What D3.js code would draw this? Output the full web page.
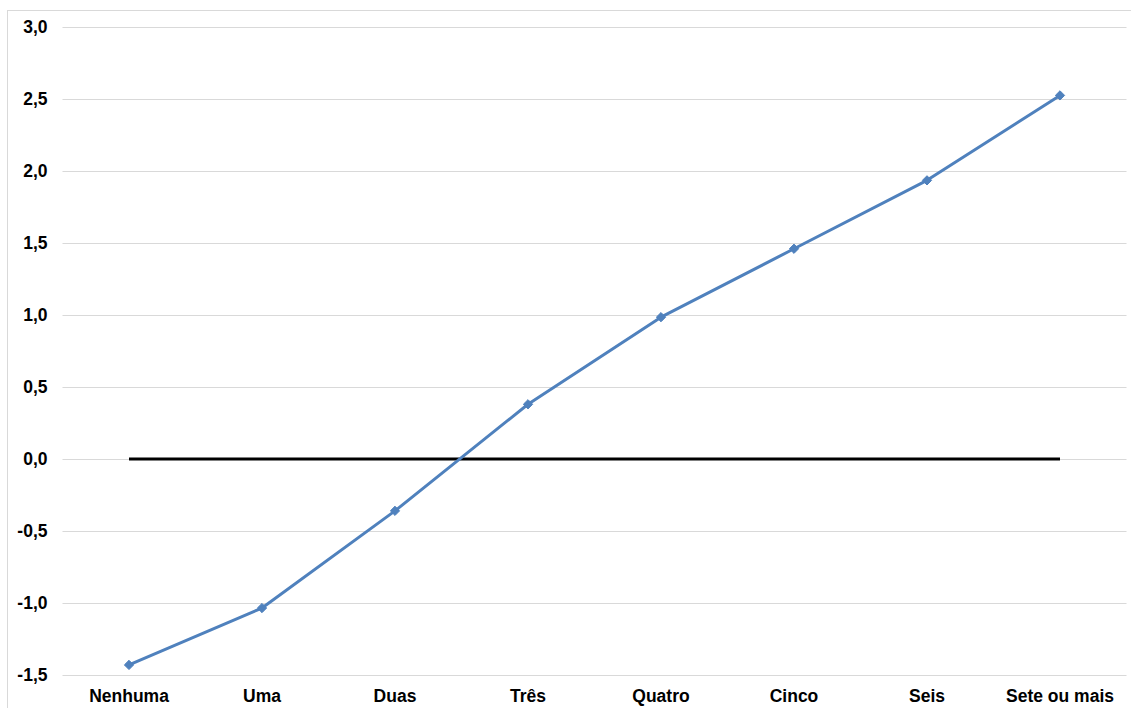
<!DOCTYPE html>
<html><head><meta charset="utf-8">
<script src="https://cdn.jsdelivr.net/npm/d3@7/dist/d3.min.js"></script>
<style>body{margin:0;background:#fff}svg{display:block}</style>
</head><body>
<script>
const categories = ["Nenhuma","Uma","Duas","Três","Quatro","Cinco","Seis","Sete ou mais"];
const values = [-1.43,-1.035,-0.36,0.38,0.985,1.46,1.935,2.525];
const zeroLine = [0,0,0,0,0,0,0,0];
const yTicks = [-1.5,-1.0,-0.5,0,0.5,1.0,1.5,2.0,2.5,3.0];

(function(){
const W=1131,H=708;
const svg=d3.select("body").append("svg").attr("width",W).attr("height",H);
svg.append("rect").attr("x",7.5).attr("y",10.5).attr("width",1140).attr("height",710)
  .attr("fill","none").attr("stroke","#d9d9d9").attr("stroke-width",1);

const pL=62.5,pR=1126.5,pT=27,pB=675;
const x=d3.scaleBand().domain(categories).range([pL,pR]);
const y=d3.scaleLinear().domain([-1.5,3]).range([pB,pT]);
const fmt=d=>d3.format(".1f")(d).replace(".",",").replace("−","-");

const grid=svg.append("g");
grid.selectAll("line").data(yTicks).join("line")
  .attr("x1",pL).attr("x2",pR)
  .attr("y1",d=>Math.round(y(d))+0.5).attr("y2",d=>Math.round(y(d))+0.5)
  .attr("stroke","#d9d9d9").attr("stroke-width",1);

const yAxis=svg.append("g").attr("transform",`translate(${pL},0)`)
  .call(d3.axisLeft(y).tickValues(yTicks).tickFormat(fmt).tickSize(0).tickPadding(15));
yAxis.select(".domain").remove();
yAxis.selectAll("text").attr("font-family","Liberation Sans, Arial, sans-serif")
  .attr("font-size",17.5).attr("font-weight","bold").attr("fill","#000");

const xAxis=svg.append("g").attr("transform",`translate(0,${pB})`)
  .call(d3.axisBottom(x).tickSize(0).tickPadding(15));
xAxis.select(".domain").remove();
xAxis.selectAll("text").attr("font-family","Liberation Sans, Arial, sans-serif")
  .attr("font-size",17.5).attr("font-weight","bold").attr("fill","#000");

const cx=d=>x(d)+x.bandwidth()/2;
svg.append("path").datum(zeroLine)
  .attr("d",d3.line().x((d,i)=>cx(categories[i])).y(d=>y(d)))
  .attr("fill","none").attr("stroke","#000").attr("stroke-width",3);

svg.append("path").datum(values)
  .attr("d",d3.line().x((d,i)=>cx(categories[i])).y(d=>y(d)))
  .attr("fill","none").attr("stroke","#4f81bd").attr("stroke-width",3).attr("stroke-linejoin","round");

svg.selectAll(".mk").data(values).join("path").attr("class","mk")
  .attr("transform",(d,i)=>`translate(${cx(categories[i])},${y(d)})`)
  .attr("d",d3.symbol(d3.symbolDiamond2,55))
  .attr("fill","#4f81bd").attr("stroke","#4f81bd").attr("stroke-width",1);
})();
</script>
</body></html>
